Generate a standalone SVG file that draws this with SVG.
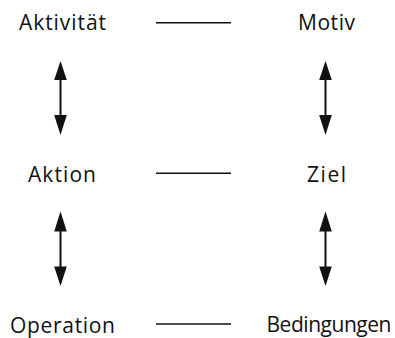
<svg xmlns="http://www.w3.org/2000/svg" width="395" height="338" viewBox="0 0 395 338">
  <style>
    .lbl { font-family: "Open Sans", "Lato", "Liberation Sans", sans-serif; font-size: 21px; fill: #111; text-anchor: middle; }
    .link { stroke: #111; stroke-width: 1.4; fill: none; }
    .dbl { stroke: #111; stroke-width: 2; fill: none; }
    .head { fill: #111; }
  </style>
  <rect width="395" height="338" fill="#fff"/>
  <g id="aktivitaet"><text class="lbl" x="62.5" y="30" textLength="87">Aktivität</text></g>
  <g id="motiv"><text class="lbl" x="326.5" y="30" textLength="57">Motiv</text></g>
  <g id="aktion"><text class="lbl" x="62" y="182" textLength="68">Aktion</text></g>
  <g id="ziel"><text class="lbl" x="326.5" y="182" textLength="39">Ziel</text></g>
  <g id="operation"><text class="lbl" x="62.5" y="332.5" textLength="105">Operation</text></g>
  <g id="bedingungen"><text class="lbl" x="329" y="332" textLength="125">Bedingungen</text></g>
  <g id="connectors">
    <line class="link" x1="156" y1="22.7" x2="231" y2="22.7"/>
    <line class="link" x1="156" y1="173.3" x2="231" y2="173.3"/>
    <line class="link" x1="156" y1="324" x2="231" y2="324"/>
    <!-- vertical double-headed arrows -->
    <g transform="translate(60.5,0)">
      <line class="dbl" x1="0" y1="78" x2="0" y2="117"/>
      <polygon class="head" points="0,61 -6.3,80 6.3,80"/>
      <polygon class="head" points="0,135 -6.3,115 6.3,115"/>
      <line class="dbl" x1="0" y1="230" x2="0" y2="268"/>
      <polygon class="head" points="0,211.5 -6.3,231.5 6.3,231.5"/>
      <polygon class="head" points="0,286 -6.3,266.5 6.3,266.5"/>
    </g>
    <g transform="translate(325.5,0)">
      <line class="dbl" x1="0" y1="78" x2="0" y2="117"/>
      <polygon class="head" points="0,61 -6.3,80 6.3,80"/>
      <polygon class="head" points="0,135 -6.3,115 6.3,115"/>
      <line class="dbl" x1="0" y1="230" x2="0" y2="268"/>
      <polygon class="head" points="0,211.5 -6.3,231.5 6.3,231.5"/>
      <polygon class="head" points="0,286 -6.3,266.5 6.3,266.5"/>
    </g>
  </g>
</svg>
